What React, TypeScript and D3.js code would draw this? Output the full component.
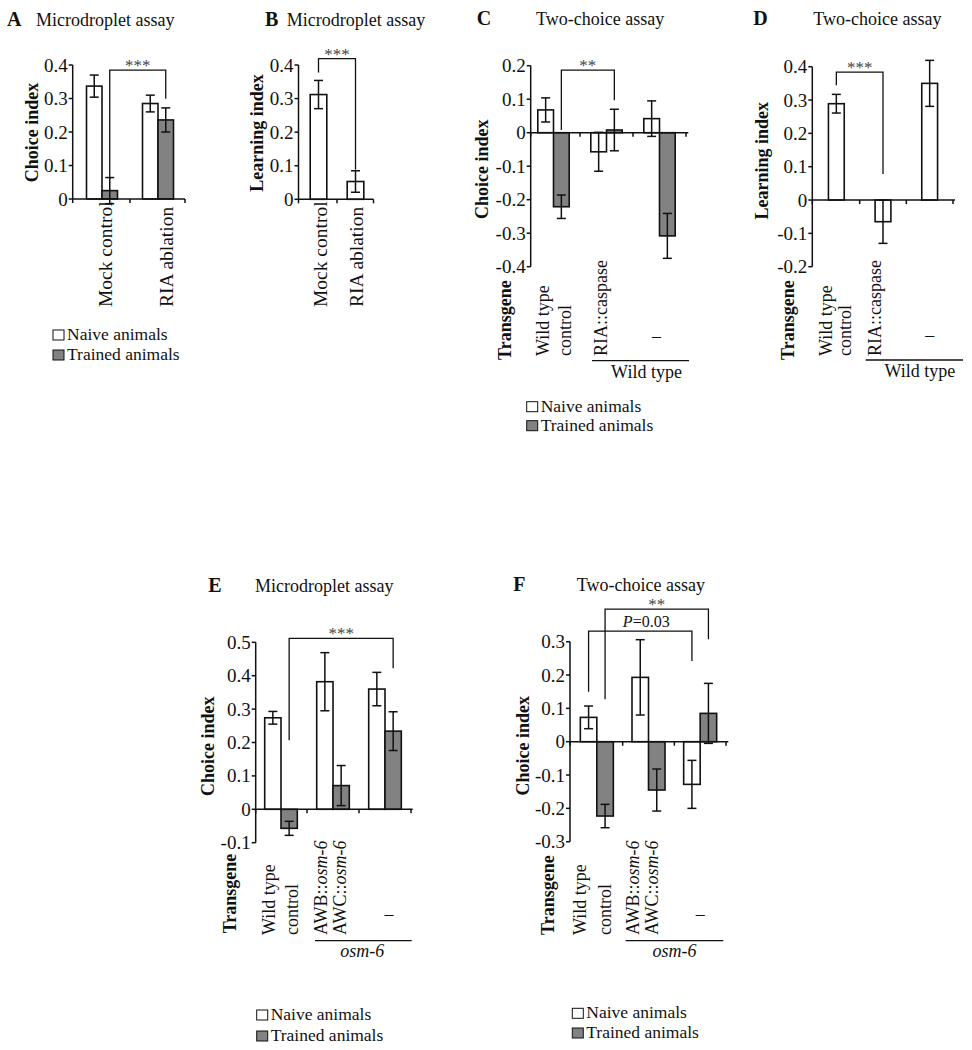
import React from "react";
import * as d3 from "d3";

const FONT = "'Liberation Serif', 'Times New Roman', Times, serif";
const GRAY = "#828282";
const INK = "#111";

// ---------- DATA ----------
const microCategories = ["Mock control", "RIA ablation"];
const aNaive = [0.337, 0.285];
const aNaiveErr = [0.033, 0.025];
const aTrained = [0.025, 0.236];
const aTrainedErr = [0.039, 0.036];
const aTicks = [0, 0.1, 0.2, 0.3, 0.4];

const bLearning = [0.312, 0.053];
const bLearningErr = [0.042, 0.032];
const bTicks = [0, 0.1, 0.2, 0.3, 0.4];

const riaCategories = ["Wild type|control", "RIA::caspase", "–"];
const cNaive = [0.068, -0.057, 0.042];
const cNaiveErr = [0.036, 0.058, 0.053];
const cTrained = [-0.221, 0.008, -0.308];
const cTrainedErr = [0.035, 0.062, 0.067];
const cTicks = [-0.4, -0.3, -0.2, -0.1, 0, 0.1, 0.2];

const dLearning = [0.289, -0.065, 0.35];
const dLearningErr = [0.028, 0.065, 0.069];
const dTicks = [-0.2, -0.1, 0, 0.1, 0.2, 0.3, 0.4];

const osmCategories = ["Wild type|control", "AWB::osm-6|AWC::osm-6", "–"];
const eNaive = [0.274, 0.382, 0.36];
const eNaiveErr = [0.019, 0.087, 0.05];
const eTrained = [-0.057, 0.071, 0.234];
const eTrainedErr = [0.021, 0.06, 0.058];
const eTicks = [-0.1, 0, 0.1, 0.2, 0.3, 0.4, 0.5];

const fNaive = [0.073, 0.193, -0.128];
const fNaiveErr = [0.034, 0.113, 0.072];
const fTrained = [-0.223, -0.145, 0.085];
const fTrainedErr = [0.035, 0.063, 0.09];
const fTicks = [-0.3, -0.2, -0.1, 0, 0.1, 0.2, 0.3];

const legendLabels = ["Naive animals", "Trained animals"];

// ---------- helpers ----------
const fmt = (v: number) => (Math.abs(v) < 1e-9 ? "0" : v.toFixed(1));

function Rich({ s }: { s: string }) {
  if (s.includes("osm-6")) {
    const parts = s.split("osm-6");
    return (
      <>
        {parts[0]}
        <tspan fontStyle="italic">osm-6</tspan>
        {parts[1]}
      </>
    );
  }
  return <>{s}</>;
}

type Series = { values: number[]; errors: number[]; fill: string };
type Bracket = {
  from: [number, number];
  to: [number, number];
  yL: number;
  yR: number;
  yT: number;
  label: string;
  kind: "stars" | "p";
  dx?: number;
};

function Panel(props: any) {
  const { L, cats, series, ticks, yLabel, brackets, group, legend } = props;
  const y = d3.scaleLinear().domain(L.yDomain).range(L.yRange);
  const xb = d3
    .scaleBand<string>()
    .domain(cats.map((_: string, i: number) => String(i)))
    .range(L.band)
    .padding(0);
  const bw = xb.bandwidth();
  const n = series.length;
  const barX = (ci: number, si: number) =>
    (xb(String(ci)) as number) + bw / 2 - (n * L.barW) / 2 + si * L.barW;
  const barC = (ci: number, si: number) => barX(ci, si) + L.barW / 2;
  const cen = (ci: number) => (xb(String(ci)) as number) + bw / 2;
  const y0 = y(0);
  const yMin = y(L.yDomain[0]);
  const yMax = y(L.yDomain[1]);
  const catFont = L.catFont || 18;

  return (
    <g fontFamily={FONT}>
      {/* panel letter + title */}
      <text x={L.letter[0]} y={L.letter[1]} fontSize={20} fontWeight="bold" fill={INK}>
        {L.letterText}
      </text>
      <text x={L.title[0]} y={L.title[1]} fontSize={18} fill={INK}>
        {L.titleText}
      </text>

      {/* bars */}
      {series.map((s: Series, si: number) =>
        s.values.map((v, ci) => (
          <rect
            key={`b${si}-${ci}`}
            x={barX(ci, si)}
            y={Math.min(y(v), y0)}
            width={L.barW}
            height={Math.abs(y(v) - y0)}
            fill={s.fill}
            stroke={INK}
            strokeWidth={1.6}
          />
        ))
      )}
      {/* error bars */}
      {series.map((s: Series, si: number) =>
        s.values.map((v, ci) => {
          const cx = barC(ci, si);
          const t = y(v + s.errors[ci]);
          const b = y(v - s.errors[ci]);
          return (
            <g key={`e${si}-${ci}`} stroke={INK} strokeWidth={1.5}>
              <line x1={cx} x2={cx} y1={t} y2={b} />
              <line x1={cx - 4.5} x2={cx + 4.5} y1={t} y2={t} />
              <line x1={cx - 4.5} x2={cx + 4.5} y1={b} y2={b} />
            </g>
          );
        })
      )}

      {/* y axis */}
      <line x1={L.axisX} x2={L.axisX} y1={yMin} y2={yMax} stroke={INK} strokeWidth={1.5} />
      {ticks.map((t: number) => (
        <g key={`t${t}`}>
          <line x1={L.axisX - 4} x2={L.axisX} y1={y(t)} y2={y(t)} stroke={INK} strokeWidth={1.5} />
          <text
            x={L.axisX - 5}
            y={y(t)}
            textAnchor="end"
            dominantBaseline="central"
            fontSize={19}
            fill={INK}
          >
            {fmt(t)}
          </text>
        </g>
      ))}
      {/* x axis */}
      <line x1={L.axisX} x2={L.axisEnd} y1={y0} y2={y0} stroke={INK} strokeWidth={1.5} />
      {d3.range(0, cats.length + 1).map((i) => {
        const xx = i === 0 ? L.axisX : Math.min((L.band[0] as number) + i * bw, L.axisEnd);
        return (
          <line key={`xt${i}`} x1={xx} x2={xx} y1={y0} y2={y0 + 4} stroke={INK} strokeWidth={1.5} />
        );
      })}

      {/* y label */}
      <text
        transform={`translate(${L.yLabel[0]},${L.yLabel[1]}) rotate(-90)`}
        textAnchor="middle"
        fontSize={18}
        fontWeight="bold"
        fill={INK}
      >
        {yLabel}
      </text>

      {/* Transgene */}
      {L.transgene && (
        <text
          transform={`translate(${L.transgene[0]},${L.transgene[1]}) rotate(-90)`}
          textAnchor="start"
          fontSize={18}
          fontWeight="bold"
          fill={INK}
        >
          Transgene
        </text>
      )}

      {/* category labels */}
      {cats.map((c: string, ci: number) => {
        if (c === "–") {
          return (
            <text
              key={`c${ci}`}
              x={cen(ci) + L.offsets[ci][0]}
              y={L.dashY}
              textAnchor="middle"
              fontSize={18}
              fill={INK}
            >
              –
            </text>
          );
        }
        return c.split("|").map((line, li) => (
          <text
            key={`c${ci}-${li}`}
            transform={`translate(${cen(ci) + L.offsets[ci][li]},${L.labelStartY}) rotate(-90)`}
            textAnchor="start"
            fontSize={catFont}
            fill={INK}
          >
            <Rich s={line} />
          </text>
        ));
      })}

      {/* group line */}
      {group && (
        <g>
          <line
            x1={(xb("1") as number) + L.group.inset[0]}
            x2={(xb(String(cats.length - 1)) as number) + bw + L.group.inset[1]}
            y1={L.group.y}
            y2={L.group.y}
            stroke={INK}
            strokeWidth={1.3}
          />
          <text
            x={
              ((xb("1") as number) + L.group.inset[0] + (xb(String(cats.length - 1)) as number) + bw + L.group.inset[1]) / 2 +
              L.group.dx
            }
            y={L.group.labelY}
            textAnchor="middle"
            fontSize={18}
            fontStyle={group.italic ? "italic" : "normal"}
            fill={INK}
          >
            {group.text}
          </text>
        </g>
      )}

      {/* brackets */}
      {brackets.map((b: Bracket, i: number) => {
        const xL = barC(b.from[0], b.from[1]);
        const xR = barC(b.to[0], b.to[1]);
        const yT = y(b.yT);
        const mid = (xL + xR) / 2 + (b.dx || 0);
        return (
          <g key={`br${i}`}>
            <path
              d={`M${xL},${y(b.yL)}V${yT}H${xR}V${y(b.yR)}`}
              fill="none"
              stroke={INK}
              strokeWidth={1.3}
            />
            {b.kind === "stars" ? (
              <text x={mid} y={yT + 1} textAnchor="middle" fontSize={17} fill="#444">
                {b.label}
              </text>
            ) : (
              <text x={mid} y={yT - 4.5} textAnchor="middle" fontSize={16} fill={INK}>
                <tspan fontStyle="italic">P</tspan>
                {b.label}
              </text>
            )}
          </g>
        );
      })}

      {/* legend */}
      {legend &&
        legendLabels.map((lab, i) => (
          <g key={`lg${i}`}>
            <rect
              x={L.legend[0]}
              y={L.legend[1] + i * L.legend[2]}
              width={11}
              height={10}
              fill={i === 0 ? "#fff" : GRAY}
              stroke={INK}
              strokeWidth={1}
            />
            <text
              x={L.legend[0] + 14}
              y={L.legend[1] + i * L.legend[2] + 10}
              fontSize={17.5}
              fill={INK}
            >
              {lab}
            </text>
          </g>
        ))}
    </g>
  );
}

// ---------- layouts (positions only) ----------
const LA = {
  letterText: "A", letter: [7, 26], titleText: "Microdroplet assay", title: [36, 26],
  axisX: 72.7, axisEnd: 185, band: [74, 186], yDomain: [0, 0.4], yRange: [199, 65], barW: 15.5,
  yLabel: [38, 132.5], labelStartY: 307, offsets: [[9.5], [15]], legend: [53, 330, 20], catFont: 19.5,
};
const LB = {
  letterText: "B", letter: [265, 26], titleText: "Microdroplet assay", title: [286.7, 26],
  axisX: 298.5, axisEnd: 373.5, band: [300, 374], yDomain: [0, 0.4], yRange: [199.3, 65], barW: 16.6,
  yLabel: [263.3, 133], labelStartY: 307, offsets: [[8], [7]], catFont: 19.5,
};
const LC = {
  letterText: "C", letter: [476.7, 25], titleText: "Two-choice assay", title: [536, 24.5],
  axisX: 530.7, axisEnd: 688.3, band: [527, 686], yDomain: [-0.4, 0.2], yRange: [266.7, 65.7], barW: 15.7,
  yLabel: [488, 169.2], transgene: [510.5, 360], labelStartY: 356, offsets: [[-4.5, 17.5], [0.5], [-3]],
  dashY: 341.5, group: { inset: [12, 3], y: 360.7, labelY: 378.3, dx: 6 }, legend: [526.7, 401.7, 19],
};
const LD = {
  letterText: "D", letter: [753.3, 25], titleText: "Two-choice assay", title: [813.3, 24.5],
  axisX: 812.3, axisEnd: 955, band: [813, 953], yDomain: [-0.2, 0.4], yRange: [266.7, 66.7], barW: 15.8,
  yLabel: [768, 160.8], transgene: [794, 360], labelStartY: 356, offsets: [[-4.3, 14.7], [-2.5], [0]],
  dashY: 341, group: { inset: [6, 10], y: 360, labelY: 376.7, dx: 5.5 },
};
const LE = {
  letterText: "E", letter: [208.3, 591.7], titleText: "Microdroplet assay", title: [255, 592],
  axisX: 255.7, axisEnd: 412.7, band: [255, 411], yDomain: [-0.1, 0.5], yRange: [842.7, 642.3], barW: 16.3,
  yLabel: [214, 746.2], transgene: [236, 933.3], labelStartY: 935, offsets: [[-6, 16.5], [-6, 12.5], [4]],
  dashY: 919.5, group: { inset: [8, 0.7], y: 940.7, labelY: 956.7, dx: -1 }, legend: [256.7, 1010, 21],
};
const LF = {
  letterText: "F", letter: [513.3, 590.7], titleText: "Two-choice assay", title: [576.7, 590.7],
  axisX: 570, axisEnd: 728.3, band: [571, 726], yDomain: [-0.3, 0.3], yRange: [841.7, 641.7], barW: 16.5,
  yLabel: [529, 745.8], transgene: [554, 935], labelStartY: 935, offsets: [[-11, 14], [-9.5, 9], [0]],
  dashY: 919.5, group: { inset: [3, -2.7], y: 940.7, labelY: 956.7, dx: 0 }, legend: [572.3, 1008.3, 19.7],
};

export default function App() {
  const naive = (v: number[], e: number[]) => ({ values: v, errors: e, fill: "#fff" });
  const trained = (v: number[], e: number[]) => ({ values: v, errors: e, fill: GRAY });
  return (
    <svg
      width={972}
      height={1050}
      style={{ position: "absolute", left: 0, top: 0, background: "#fff" }}
    >
      <rect width={972} height={1050} fill="#fff" />
      <Panel
        L={LA}
        cats={microCategories}
        series={[naive(aNaive, aNaiveErr), trained(aTrained, aTrainedErr)]}
        ticks={aTicks}
        yLabel="Choice index"
        brackets={[{ from: [0, 1], to: [1, 1], yL: 0.06, yR: 0.299, yT: 0.385, label: "***", kind: "stars" }]}
        legend
      />
      <Panel
        L={LB}
        cats={microCategories}
        series={[naive(bLearning, bLearningErr)]}
        ticks={bTicks}
        yLabel="Learning index"
        brackets={[{ from: [0, 0], to: [1, 0], yL: 0.378, yR: 0.088, yT: 0.419, label: "***", kind: "stars" }]}
      />
      <Panel
        L={LC}
        cats={riaCategories}
        series={[naive(cNaive, cNaiveErr), trained(cTrained, cTrainedErr)]}
        ticks={cTicks}
        yLabel="Choice index"
        brackets={[{ from: [0, 1], to: [1, 1], yL: 0.008, yR: 0.097, yT: 0.187, label: "**", kind: "stars" }]}
        group={{ text: "Wild type", italic: false }}
        legend
      />
      <Panel
        L={LD}
        cats={riaCategories}
        series={[naive(dLearning, dLearningErr)]}
        ticks={dTicks}
        yLabel="Learning index"
        brackets={[{ from: [0, 0], to: [1, 0], yL: 0.344, yR: 0.078, yT: 0.384, label: "***", kind: "stars" }]}
        group={{ text: "Wild type", italic: false }}
      />
      <Panel
        L={LE}
        cats={osmCategories}
        series={[naive(eNaive, eNaiveErr), trained(eTrained, eTrainedErr)]}
        ticks={eTicks}
        yLabel="Choice index"
        brackets={[{ from: [0, 1], to: [2, 1], yL: 0.207, yR: 0.422, yT: 0.512, label: "***", kind: "stars" }]}
        group={{ text: "osm-6", italic: true }}
        legend
      />
      <Panel
        L={LF}
        cats={osmCategories}
        series={[naive(fNaive, fNaiveErr), trained(fTrained, fTrainedErr)]}
        ticks={fTicks}
        yLabel="Choice index"
        brackets={[
          { from: [0, 1], to: [2, 1], yL: 0.127, yR: 0.307, yT: 0.398, label: "**", kind: "stars" },
          { from: [0, 0], to: [2, 0], yL: 0.15, yR: 0.242, yT: 0.332, label: "=0.03", kind: "p", dx: 6 },
        ]}
        group={{ text: "osm-6", italic: true }}
        legend
      />
    </svg>
  );
}
